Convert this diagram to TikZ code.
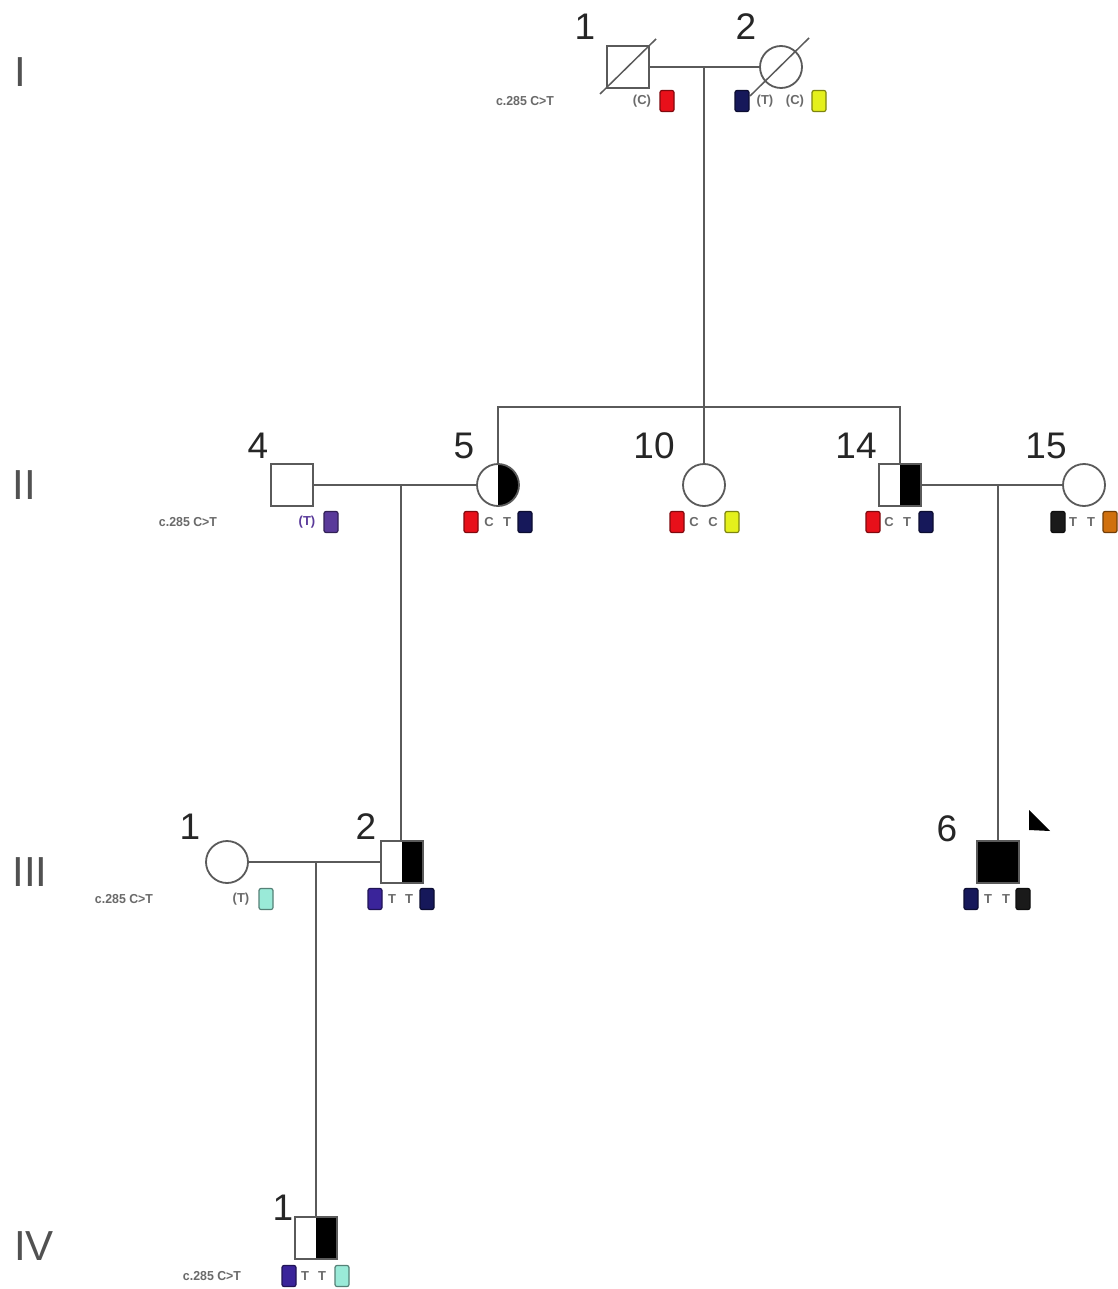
\documentclass[tikz,border=0pt]{standalone}
\usepackage{fontspec}
\setmainfont{Liberation Sans}
\definecolor{lineGray}{HTML}{5A5A5A}
\definecolor{txtGray}{HTML}{6A6A6A}
\definecolor{numCol}{HTML}{262626}
\definecolor{aRed}{HTML}{E8101A}
\definecolor{aNavy}{HTML}{16185A}
\definecolor{aYellow}{HTML}{E4F01C}
\definecolor{aPurple}{HTML}{5A3A9A}
\definecolor{aViolet}{HTML}{3A249A}
\definecolor{aCyan}{HTML}{9AEAD8}
\definecolor{aOrange}{HTML}{D0700E}
\definecolor{aBlack}{HTML}{1A1A1A}
\begin{document}
\begin{tikzpicture}[x=1pt,y=-1pt,
  line/.style={draw=lineGray, line width=1.8},
  male/.style={rectangle, draw=lineGray, line width=1.8, minimum size=42, inner sep=0, fill=white},
  female/.style={circle, draw=lineGray, line width=1.8, minimum size=42, inner sep=0, fill=white},
  halfR/.style={path picture={\fill[black] (path picture bounding box.north) rectangle (path picture bounding box.south east);}},
  affected/.style={fill=black},
  num/.style={font=\fontsize{37}{37}\selectfont, text=numCol, inner sep=0},
  gen/.style={font=\fontsize{42}{42}\selectfont, text=numCol!80, inner sep=0},
  small/.style={font=\fontsize{13}{13}\selectfont\bfseries, text=txtGray, inner sep=0, xscale=0.95},
  sdata/.style={font=\fontsize{13}{13}\selectfont\bfseries, text=txtGray, inner sep=0},
  allele/.style={rectangle, rounded corners=2, minimum width=14, minimum height=21, inner sep=0, draw=#1!55!black, fill=#1, line width=1.2},
  deceased/.style={draw=lineGray, line width=1.5}
]
\useasboundingbox[fill=white] (0,0) rectangle (1117,1289);

% generation labels
\node[gen] (gI) at (20,72) {I};
\node[gen] (gII) at (24,485) {II};
\node[gen] (gIII) at (30,872) {III};
\node[gen] (gIV) at (34,1246) {IV};

% ---------- Generation I ----------
\node[male] (I1) at (628,67) {};
\node[female] (I2) at (781,67) {};
\node[num] (nI1) at (585,27) {1};
\node[num] (nI2) at (746,27) {2};
\coordinate (dI1a) at (600,94); \coordinate (dI1b) at (656,39);
\coordinate (dI2a) at (750,96); \coordinate (dI2b) at (809,38);
\draw[deceased] (dI1a) -- (dI1b);
\draw[deceased] (dI2a) -- (dI2b);
\node[small] (cI) at (525,101) {c.285 C>T};
\node[sdata] (tI1) at (642,101) {(C)};
\node[allele=aRed] (aI1) at (667,101) {};
\node[allele=aNavy] (aI2a) at (742,101) {};
\node[sdata] (tI2a) at (765,101) {(T)};
\node[sdata] (tI2b) at (795,101) {(C)};
\node[allele=aYellow] (aI2b) at (819,101) {};

% ---------- Generation II ----------
\node[male] (II4) at (292,485) {};
\node[female, halfR] (II5) at (498,485) {};
\node[female] (II10) at (704,485) {};
\node[male, halfR] (II14) at (900,485) {};
\node[female] (II15) at (1084,485) {};
\node[num] (nII4) at (258,446) {4};
\node[num] (nII5) at (464,446) {5};
\node[num] (nII10) at (654,446) {10};
\node[num] (nII14) at (856,446) {14};
\node[num] (nII15) at (1046,446) {15};

\node[small] (cII) at (188,522) {c.285 C>T};
\node[sdata, text=aPurple] (tII4) at (307,522) {(T)};
\node[allele=aPurple] (aII4) at (331,522) {};

\node[allele=aRed] (aII5a) at (471,522) {};
\node[sdata] (tII5a) at (489,522) {C};
\node[sdata] (tII5b) at (507,522) {T};
\node[allele=aNavy] (aII5b) at (525,522) {};

\node[allele=aRed] (aII10a) at (677,522) {};
\node[sdata] (tII10a) at (694,522) {C};
\node[sdata] (tII10b) at (713,522) {C};
\node[allele=aYellow] (aII10b) at (732,522) {};

\node[allele=aRed] (aII14a) at (873,522) {};
\node[sdata] (tII14a) at (889,522) {C};
\node[sdata] (tII14b) at (907,522) {T};
\node[allele=aNavy] (aII14b) at (926,522) {};

\node[allele=aBlack] (aII15a) at (1058,522) {};
\node[sdata] (tII15a) at (1073,522) {T};
\node[sdata] (tII15b) at (1091,522) {T};
\node[allele=aOrange] (aII15b) at (1110,522) {};

% ---------- Generation III ----------
\node[female] (III1) at (227,862) {};
\node[male, halfR] (III2) at (402,862) {};
\node[male, affected] (III6) at (998,862) {};
\node[num] (nIII1) at (190,827) {1};
\node[num] (nIII2) at (366,827) {2};
\node[num] (nIII6) at (947,829) {6};
\coordinate (pa) at (1029,810);
\coordinate (pb) at (1029,830);
\coordinate (pc) at (1050,831);
\fill[black] (pa) -- (pb) -- (pc) -- cycle;

\node[small] (cIII) at (124,899) {c.285 C>T};
\node[sdata] (tIII1) at (241,899) {(T)};
\node[allele=aCyan] (aIII1) at (266,899) {};

\node[allele=aViolet] (aIII2a) at (375,899) {};
\node[sdata] (tIII2a) at (392,899) {T};
\node[sdata] (tIII2b) at (409,899) {T};
\node[allele=aNavy] (aIII2b) at (427,899) {};

\node[allele=aNavy] (aIII6a) at (971,899) {};
\node[sdata] (tIII6a) at (988,899) {T};
\node[sdata] (tIII6b) at (1006,899) {T};
\node[allele=aBlack] (aIII6b) at (1023,899) {};

% ---------- Generation IV ----------
\node[male, halfR] (IV1) at (316,1238) {};
\node[num] (nIV1) at (283,1208) {1};
\node[small] (cIV) at (212,1276) {c.285 C>T};
\node[allele=aViolet] (aIV1a) at (289,1276) {};
\node[sdata] (tIV1a) at (305,1276) {T};
\node[sdata] (tIV1b) at (322,1276) {T};
\node[allele=aCyan] (aIV1b) at (342,1276) {};

% ---------- connectors ----------
\coordinate (mI) at (704,67);
\coordinate (sI) at (704,407);
\draw[line] (I1.east) -- (I2.west);
\draw[line] (mI) -- (sI);
\draw[line] (II5.north) |- (sI) -| (II14.north);
\draw[line] (sI) -- (II10.north);

\coordinate (mII) at (401,485);
\draw[line] (II4.east) -- (II5.west);
\draw[line] (mII) -- (III2.north -| mII);

\coordinate (mII2) at (998,485);
\draw[line] (II14.east) -- (II15.west);
\draw[line] (mII2) -- (III6.north);

\coordinate (mIII) at (316,862);
\draw[line] (III1.east) -- (III2.west);
\draw[line] (mIII) -- (IV1.north);
\end{tikzpicture}
\end{document}
